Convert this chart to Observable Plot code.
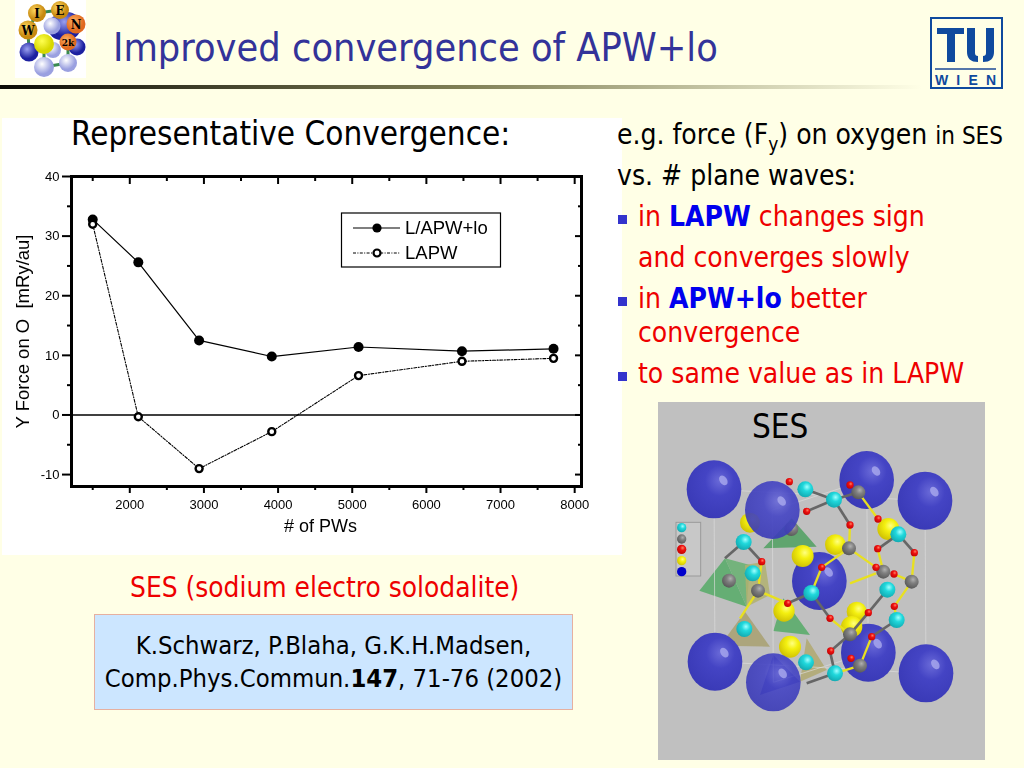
<!DOCTYPE html>
<html><head><meta charset="utf-8">
<script src="https://cdn.jsdelivr.net/npm/d3@7"></script>
<script src="https://cdn.jsdelivr.net/npm/@observablehq/plot@0.6"></script>
<style>
html,body{margin:0;padding:0;background:#FFFFE6;width:1024px;height:768px;overflow:hidden;position:relative;font-family:"DejaVu Sans",sans-serif;font-stretch:condensed}
.t{position:absolute;white-space:nowrap;line-height:1}
.b{position:absolute;width:9px;height:9px;background:#3333CC}
.r{color:#EE0000}.bb{color:#0000EE;font-weight:700}
sub{font-size:.68em;line-height:0}
#chart{position:absolute;left:2px;top:118px;width:620px;height:437px;background:#fff;filter:blur(.35px)}
#chart svg{display:block;background:#fff}
.abs{position:absolute}
</style></head><body>
<svg class="abs" style="left:0;top:85px" width="1024" height="5"><defs><linearGradient id="hl"><stop offset="0" stop-color="#0c0c06"/><stop offset=".45" stop-color="#7f7f55"/><stop offset=".9" stop-color="#FFFFE6"/></linearGradient></defs><rect width="1024" height="4" fill="url(#hl)"/></svg>
<svg id="wien" class="abs" style="left:15px;top:0" width="71" height="78"></svg>
<div class="t" style="left:113px;top:28px;font-size:39.3px;color:#333399" id="title">Improved convergence of APW+lo</div>
<svg class="abs" style="left:930px;top:17px" width="74" height="73" viewBox="0 0 74 73">
<rect x="1" y="1" width="71" height="70" fill="#FFFFE6" stroke="#0F4A9E" stroke-width="2"/>
<path d="M7 11H34V17H25V45H17V17H7Z M37 11H45V36Q45 39 48 39V45Q37 45 37 35Z M64 11H56V36Q56 39 53 39V45Q64 45 64 35Z" fill="#0F4A9E"/>
<rect x="5" y="51" width="61" height="2" fill="#5577aa"/>
<text x="5" y="68" textLength="61" font-family="Liberation Sans" font-weight="700" font-size="14" fill="#0F4A9E">WIEN</text></svg>
<div id="chart"></div>
<div class="t" style="left:71px;top:117px;font-size:33px;color:#000">Representative Convergence:</div>
<svg id="legend" class="abs" style="left:340px;top:212px;filter:blur(.35px)" width="162" height="57">
<rect x="1.5" y="1" width="159" height="54" fill="#fff" stroke="#000" stroke-width="1.2"/>
<line x1="13" x2="60" y1="16" y2="16" stroke="#000" stroke-width="1.2"/><circle cx="37" cy="16" r="4.6" fill="#000"/>
<line x1="13" x2="60" y1="41" y2="41" stroke="#000" stroke-dasharray="3 1.4 1 1.4"/><circle cx="37" cy="41" r="3.5" fill="#fff" stroke="#000" stroke-width="2.2"/>
<text x="65" y="22" font-family="Liberation Sans" font-size="18.5">L/APW+lo</text>
<text x="65" y="47" font-family="Liberation Sans" font-size="18.5">LAPW</text></svg>

<div class="t" style="left:617px;top:121px;font-size:28px">e.g. force (F<sub>y</sub>) on oxygen <span style="font-size:24px">in SES</span></div>
<div class="t" style="left:617px;top:162px;font-size:28px">vs. # plane waves:</div>
<div class="b" style="left:618px;top:215px"></div>
<div class="t r" style="left:638px;top:203px;font-size:28px">in <span class="bb">LAPW</span> changes sign</div>
<div class="t r" style="left:638px;top:244px;font-size:28px">and converges slowly</div>
<div class="b" style="left:618px;top:297px"></div>
<div class="t r" style="left:638px;top:285px;font-size:28px">in <span class="bb">APW+lo</span> better</div>
<div class="t r" style="left:638px;top:319px;font-size:28px">convergence</div>
<div class="b" style="left:618px;top:372px"></div>
<div class="t r" style="left:638px;top:360px;font-size:28px">to same value as in LAPW</div>
<div class="t r" style="left:130px;top:574px;font-size:27.8px">SES (sodium electro solodalite)</div>
<div class="abs" style="left:94px;top:614px;width:477px;height:94px;background:#CCE6FF;border:1px solid #E6B0A0"></div>
<div class="t" style="left:94px;width:479px;text-align:center;top:633px;font-size:25.4px">K.Schwarz, P.Blaha, G.K.H.Madsen,</div>
<div class="t" style="left:94px;width:479px;text-align:center;top:666px;font-size:25.4px">Comp.Phys.Commun.<b>147</b>, 71-76 (2002)</div>
<div class="abs" style="left:658px;top:402px;width:327px;height:358px;background:#C0C0C0"></div>
<svg id="mol" class="abs" style="left:650px;top:395px" width="345" height="370" viewBox="0 0 1035 1110"></svg>
<div class="t" style="left:752px;top:410px;font-size:33px">SES</div>
<script>
// chart values
const planeWaves = [1500, 2115, 2935, 3915, 5085, 6480, 7715];
const lapwLo = [32.8, 25.6, 12.5, 9.8, 11.4, 10.7, 11.1];
const lapw = [32.0, -0.3, -9.0, -2.8, 6.6, 9.0, 9.5];
const xMajor = [2000, 3000, 4000, 5000, 6000, 7000, 8000];
const xMinor = [1500, 2500, 3500, 4500, 5500, 6500, 7500];
const yMajor = [-10, 0, 10, 20, 30, 40];
const yMinor = [-5, 5, 15, 25, 35];
const xTitle = ["# of PWs"];
const yTitle = ["Y Force on O  [mRy/au]"];
const rows = (ys) => planeWaves.map((x, i) => ({x, y: ys[i]}));
const font = "Liberation Sans";
const noText = () => "";
const plain = (d) => String(d);
const plot = Plot.plot({
  width: 620, height: 437, marginLeft: 69, marginRight: 41, marginTop: 58, marginBottom: 69,
  style: {background: "#fff", fontFamily: font, color: "#000", fontStretch: "normal"},
  x: {domain: [1214, 8092]},
  y: {domain: [-12, 40]},
  marks: [
    Plot.axisX({ticks: xMajor, tickSize: 7, tickPadding: 6, fontSize: 13, tickFormat: plain, label: null, strokeWidth: 2}),
    Plot.axisX({ticks: xMinor, tickSize: 4, tickFormat: noText, label: null, strokeWidth: 2}),
    Plot.axisX({anchor: "top", ticks: xMajor, tickSize: -7, tickFormat: noText, label: null, strokeWidth: 2}),
    Plot.axisX({anchor: "top", ticks: xMinor, tickSize: -4, tickFormat: noText, label: null, strokeWidth: 2}),
    Plot.axisY({ticks: yMajor, tickSize: 9, tickPadding: 3, fontSize: 13, tickFormat: plain, label: null, strokeWidth: 2}),
    Plot.axisY({ticks: yMinor, tickSize: 4, tickFormat: noText, label: null, strokeWidth: 2}),
    Plot.axisY({anchor: "right", ticks: yMajor, tickSize: -7, tickFormat: noText, label: null, strokeWidth: 2}),
    Plot.axisY({anchor: "right", ticks: yMinor, tickSize: -4, tickFormat: noText, label: null, strokeWidth: 2}),
    Plot.text(xTitle, {frameAnchor: "bottom", dx: -6, dy: 45, fontSize: 18, fill: "#000"}),
    Plot.text(yTitle, {frameAnchor: "left", textAnchor: "middle", dx: -48, rotate: -90, fontSize: 18.5, fill: "#000"}),
    Plot.ruleY([0], {stroke: "#000", strokeWidth: 1.6}),
    Plot.frame({stroke: "#000", strokeWidth: 3}),
    Plot.line(rows(lapw), {x: "x", y: "y", stroke: "#000", strokeWidth: 1.1, strokeDasharray: "3 1.6 1 1.6"}),
    Plot.line(rows(lapwLo), {x: "x", y: "y", stroke: "#000", strokeWidth: 1.2}),
    Plot.dot(rows(lapwLo), {x: "x", y: "y", r: 5, fill: "#000", stroke: "none"}),
    Plot.dot(rows(lapw), {x: "x", y: "y", r: 3.5, fill: "#fff", stroke: "#000", strokeWidth: 2.4})
  ]
});
document.getElementById("chart").append(plot);

// WIEN2k logo (illustration)
const wien = d3.select("#wien");
wien.append("rect").attr("width",71).attr("height",78).attr("fill","#fff");
const defs = wien.append("defs");
function grad(sel,id,c0,c1){const g=sel.append("radialGradient").attr("id",id).attr("cx",".4").attr("cy",".35");g.append("stop").attr("offset",0).attr("stop-color",c0);g.append("stop").attr("offset",1).attr("stop-color",c1);}
grad(defs,"gBlue","#9aa0f0","#1c20a0");grad(defs,"gPale","#ffffff","#9aa0e0");grad(defs,"gY","#ffd860","#c88a10");grad(defs,"gO","#ffb060","#e06a20");grad(defs,"gYY","#ffff50","#d8d800");
const wienBalls=[[46,27,"gBlue",13],[52,26,"gBlue",14],[37,26,"gPale",8.5],[62,47,"gBlue",8.5],[14,52,"gBlue",9.5],[38,50,"gPale",8],[29,67,"gPale",10],[53,63,"gPale",9],[22,13,"gY",9],[45,10,"gY",9],[61,24,"gO",9.5],[13,30,"gY",9.5],[29,44,"gYY",10],[53,42,"gO",8.5]];
[[22,13,45,10],[45,10,61,24],[13,30,22,13],[13,30,14,52],[29,44,29,67],[53,42,53,63],[29,67,53,63]].forEach(l=>wien.append("line").attr("x1",l[0]).attr("y1",l[1]).attr("x2",l[2]).attr("y2",l[3]).attr("stroke","#3a8a50").attr("stroke-width",3));
wienBalls.forEach(b=>wien.append("circle").attr("cx",b[0]).attr("cy",b[1]).attr("r",b[3]).attr("fill",`url(#${b[2]})`));
[["I",22,13],["E",45,10],["N",61,24],["W",13,30]].forEach(t=>wien.append("text").attr("x",t[1]).attr("y",t[2]+5).attr("text-anchor","middle").attr("font-family","DejaVu Serif").attr("font-weight",700).attr("font-size",13).text(t[0]));
wien.append("text").attr("x",53).attr("y",46).attr("text-anchor","middle").attr("font-family","DejaVu Serif").attr("font-weight",700).attr("font-size",10).text("2k");

// SES crystal structure (illustration)
const mol = d3.select("#mol");
const md = mol.append("defs");
function grad2(id,c0,c1,c2){const g=md.append("radialGradient").attr("id",id).attr("cx",".6").attr("cy",".35").attr("r",".75");g.append("stop").attr("offset",0).attr("stop-color",c0);g.append("stop").attr("offset",.35).attr("stop-color",c1);g.append("stop").attr("offset",1).attr("stop-color",c2);}
grad2("mB","#6a6ad8","#4444c4","#3838b4");grad2("mY","#ffff80","#f4f010","#c8b800");grad2("mC","#a0ffff","#20d8dc","#10a0a8");grad2("mG","#b0b0b0","#808080","#505050");grad2("mR","#ff8060","#ee1010","#b80000");
const polys=[[[148,587,225,490,290,635],"#55aa66"],[[225,490,300,510,290,635],"#66b070"],[[340,460,425,370,500,455],"#4fa060"],[[370,708,400,610,480,720],"#55aa66"],[[210,752,285,650,360,755],"#a8a070"],[[285,510,345,500,360,600,290,635],"#b0b070"],[[450,860,470,730,530,825],"#b0a870"],[[330,900,370,780,450,860],"#3a3aa0"]];
polys.forEach(p=>mol.append("polygon").attr("points",p[0].join(",")).attr("fill",p[1]).attr("fill-opacity",.85));
[[192,283,825,317],[192,283,195,800],[825,317,828,835],[195,800,828,835],[367,345,650,255],[650,255,655,773],[370,862,655,773],[367,345,370,862]].forEach(l=>mol.append("line").attr("x1",l[0]).attr("y1",l[1]).attr("x2",l[2]).attr("y2",l[3]).attr("stroke","#dddddd").attr("stroke-width",2));
const backBlue=[[650,255],[192,283],[825,317],[508,558],[195,800],[655,773],[828,835]];
const addBlue=(b,op)=>{mol.append("ellipse").attr("cx",b[0]).attr("cy",b[1]).attr("rx",82).attr("ry",87).attr("fill","url(#mB)").attr("fill-opacity",op);mol.append("ellipse").attr("cx",b[0]+28).attr("cy",b[1]-27).attr("rx",11).attr("ry",16).attr("transform",`rotate(-35 ${b[0]+28} ${b[1]-27})`).attr("fill","#aaaaee").attr("fill-opacity",.8);};
backBlue.forEach(b=>addBlue(b,1));
const yellow=[[300,383,30],[458,483,33],[556,449,31],[715,402,33],[402,648,32],[620,650,30],[605,695,32],[420,755,33]];
yellow.forEach(b=>mol.append("circle").attr("cx",b[0]).attr("cy",b[1]).attr("r",b[2]).attr("fill","url(#mY)"));
const gray=[[625,292],[424,402],[597,460],[700,530],[785,560],[237,557],[324,587],[600,718],[630,812]];
const cyan=[[466,283],[552,314],[281,441],[745,418],[308,535],[484,594],[712,584],[740,675],[283,702],[468,802],[555,835]];
const red=[[418,260],[600,270],[470,349],[600,390],[684,372],[683,461],[793,473],[335,500],[515,517],[678,517],[732,537],[413,625],[540,670],[655,653],[733,634],[665,725],[542,768],[603,790]];
const grayBonds=[[466,283,552,314],[552,314,625,292],[552,314,600,390],[470,349,552,314],[281,441,335,500],[281,441,225,490],[484,594,540,670],[484,594,413,625],[712,584,655,653],[540,770,555,835],[600,718,542,768],[655,653,600,718],[740,675,665,725],[555,835,470,865],[685,461,745,418],[745,418,793,473]];
const yellowBonds=[[625,292,684,372],[600,390,597,460],[597,460,515,517],[597,460,678,517],[515,517,484,594],[324,587,413,625],[324,587,335,500],[324,587,270,670],[793,473,785,560],[785,560,732,537],[785,560,733,634],[683,461,700,530],[600,718,540,670],[665,725,630,812],[555,835,630,812],[600,565,678,535],[733,634,740,675]];
grayBonds.forEach(l=>mol.append("line").attr("x1",l[0]).attr("y1",l[1]).attr("x2",l[2]).attr("y2",l[3]).attr("stroke","#666").attr("stroke-width",8));
yellowBonds.forEach(l=>mol.append("line").attr("x1",l[0]).attr("y1",l[1]).attr("x2",l[2]).attr("y2",l[3]).attr("stroke","#E8E020").attr("stroke-width",7));
gray.forEach(b=>mol.append("circle").attr("cx",b[0]).attr("cy",b[1]).attr("r",21).attr("fill","url(#mG)"));
cyan.forEach(b=>mol.append("circle").attr("cx",b[0]).attr("cy",b[1]).attr("r",24).attr("fill","url(#mC)"));
red.forEach(b=>mol.append("circle").attr("cx",b[0]).attr("cy",b[1]).attr("r",11).attr("fill","url(#mR)"));
[[367,345],[370,862]].forEach(b=>addBlue(b,.9));
mol.append("rect").attr("x",78).attr("y",382).attr("width",74).attr("height",161).attr("fill","#c8c8c8").attr("stroke","#9a9a9a").attr("stroke-width",3);
[[95,398,"url(#mC)"],[95,432,"url(#mG)"],[95,463,"url(#mR)"],[95,497,"url(#mY)"],[95,530,"#0000cc"]].forEach(b=>mol.append("circle").attr("cx",b[0]).attr("cy",b[1]).attr("r",14).attr("fill",b[2]));
</script>
</body></html>
